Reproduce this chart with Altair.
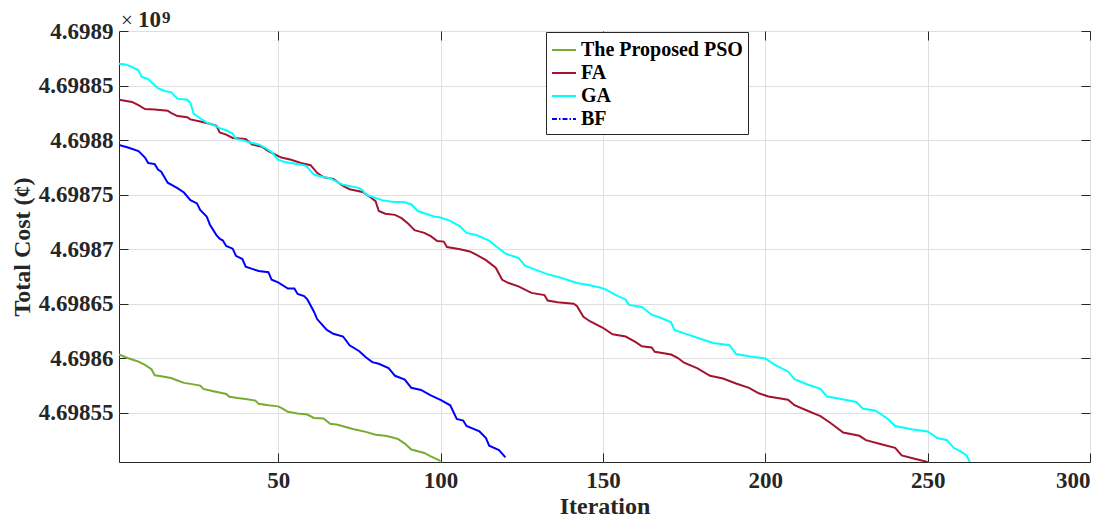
import altair as alt
import pandas as pd

series_names = ["The Proposed PSO", "FA", "GA", "BF"]
series_colors = ["#77AC30", "#A2142F", "#00FFFF", "#0000FF"]
series_dash = [[1, 0], [1, 0], [1, 0], [5, 2, 1.5, 2]]

pso_iter = [1, 3, 5, 7, 9, 11, 12, 14, 17, 19, 21, 23, 26, 27, 30, 33, 34, 35, 38, 40,
            43, 44, 47, 50, 51, 53, 56, 59, 61, 64, 66, 68, 70, 73, 77, 80, 83, 85, 87, 89,
            91, 93, 95, 97, 100]
pso_cost = [4.6986035, 4.6986010, 4.6985990, 4.6985970, 4.6985940, 4.6985900, 4.6985845,
            4.6985836, 4.6985820, 4.6985797, 4.6985775, 4.6985766, 4.6985750, 4.6985720,
            4.6985699, 4.6985680, 4.6985674, 4.6985647, 4.6985635, 4.6985628, 4.6985613,
            4.6985583, 4.6985570, 4.6985560, 4.6985546, 4.6985510, 4.6985494, 4.6985485,
            4.6985454, 4.6985448, 4.6985400, 4.6985393, 4.6985378, 4.6985353, 4.6985326,
            4.6985300, 4.6985290, 4.6985277, 4.6985260, 4.6985219, 4.6985164, 4.6985148,
            4.6985133, 4.6985102, 4.6985060]

fa_iter = [1, 5, 7, 9, 12, 16, 17, 19, 22, 23, 26, 29, 31, 32, 34, 36, 40, 42, 45, 47,
           51, 54, 57, 60, 62, 64, 67, 70, 72, 76, 78, 80, 81, 83, 86, 88, 90, 92, 95, 97,
           99, 101, 102, 106, 109, 111, 114, 117, 119, 121, 124, 128, 132, 133, 136, 141,
           142, 144, 146, 150, 153, 157, 160, 162, 165, 166, 171, 173, 175, 179, 183, 187,
           191, 195, 198, 201, 207, 209, 213, 217, 220, 224, 229, 231, 236, 240, 242, 246, 250]
fa_cost = [4.6988370, 4.6988350, 4.6988320, 4.6988285, 4.6988280, 4.6988270, 4.6988250,
           4.6988220, 4.6988210, 4.6988190, 4.6988170, 4.6988150, 4.6988130, 4.6988070,
           4.6988050, 4.6988020, 4.6988010, 4.6987960, 4.6987940, 4.6987900, 4.6987840,
           4.6987820, 4.6987790, 4.6987770, 4.6987700, 4.6987660, 4.6987645, 4.6987580,
           4.6987550, 4.6987525, 4.6987485, 4.6987440, 4.6987350, 4.6987325, 4.6987315,
           4.6987285, 4.6987235, 4.6987175, 4.6987150, 4.6987120, 4.6987075, 4.6987070,
           4.6987020, 4.6987000, 4.6986980, 4.6986950, 4.6986900, 4.6986830, 4.6986720,
           4.6986690, 4.6986660, 4.6986600, 4.6986580, 4.6986530, 4.6986515, 4.6986500,
           4.6986480, 4.6986380, 4.6986340, 4.6986280, 4.6986220, 4.6986200, 4.6986150,
           4.6986110, 4.6986100, 4.6986060, 4.6986035, 4.6986005, 4.6985960, 4.6985910,
           4.6985840, 4.6985815, 4.6985770, 4.6985730, 4.6985680, 4.6985650, 4.6985620,
           4.6985570, 4.6985520, 4.6985470, 4.6985410, 4.6985320, 4.6985290, 4.6985250,
           4.6985210, 4.6985180, 4.6985110, 4.6985080, 4.6985050]

ga_iter = [1, 3, 5, 7, 8, 10, 11, 13, 15, 17, 18, 19, 22, 23, 24, 26, 28, 30, 32, 34,
           36, 37, 39, 41, 44, 46, 48, 50, 52, 54, 58, 59, 60, 61, 64, 66, 68, 70, 72, 75,
           76, 77, 80, 82, 85, 89, 91, 93, 95, 98, 100, 103, 106, 108, 111, 115, 117, 120,
           124, 126, 129, 133, 137, 142, 146, 149, 151, 154, 157, 158, 162, 165, 168, 171,
           172, 176, 180, 184, 189, 191, 195, 200, 203, 207, 209, 213, 217, 219, 223, 228,
           230, 234, 238, 240, 245, 250, 253, 256, 258, 260, 262, 263]
ga_cost = [4.6988700, 4.6988694, 4.6988670, 4.6988640, 4.6988580, 4.6988560, 4.6988530,
           4.6988475, 4.6988450, 4.6988440, 4.6988410, 4.6988380, 4.6988370, 4.6988340,
           4.6988240, 4.6988200, 4.6988160, 4.6988140, 4.6988110, 4.6988090, 4.6988060,
           4.6988010, 4.6988000, 4.6987980, 4.6987960, 4.6987930, 4.6987890, 4.6987820,
           4.6987800, 4.6987790, 4.6987770, 4.6987755, 4.6987715, 4.6987685, 4.6987660,
           4.6987650, 4.6987620, 4.6987590, 4.6987580, 4.6987560, 4.6987540, 4.6987500,
           4.6987470, 4.6987450, 4.6987435, 4.6987430, 4.6987410, 4.6987350, 4.6987330,
           4.6987300, 4.6987290, 4.6987260, 4.6987210, 4.6987150, 4.6987130, 4.6987080,
           4.6987030, 4.6986960, 4.6986920, 4.6986850, 4.6986815, 4.6986770, 4.6986740,
           4.6986690, 4.6986670, 4.6986650, 4.6986630, 4.6986580, 4.6986540, 4.6986490,
           4.6986470, 4.6986400, 4.6986370, 4.6986330, 4.6986260, 4.6986220, 4.6986180,
           4.6986140, 4.6986120, 4.6986040, 4.6986020, 4.6986000, 4.6985940, 4.6985880,
           4.6985810, 4.6985760, 4.6985720, 4.6985650, 4.6985630, 4.6985600, 4.6985540,
           4.6985520, 4.6985440, 4.6985380, 4.6985350, 4.6985330, 4.6985270, 4.6985250,
           4.6985180, 4.6985150, 4.6985110, 4.6985050]

bf_iter = [1, 4, 7, 9, 10, 12, 13, 14, 16, 19, 21, 23, 25, 26, 28, 29, 31, 32, 33, 34,
           36, 37, 39, 40, 42, 44, 47, 48, 50, 53, 55, 56, 58, 59, 61, 62, 65, 67, 70, 72,
           75, 77, 79, 81, 84, 86, 89, 91, 94, 97, 100, 103, 105, 107, 108, 112, 114, 115,
           118, 120]
bf_cost = [4.6987955, 4.6987930, 4.6987900, 4.6987840, 4.6987790, 4.6987780, 4.6987730,
           4.6987710, 4.6987610, 4.6987560, 4.6987520, 4.6987450, 4.6987420, 4.6987360,
           4.6987300, 4.6987225, 4.6987130, 4.6987096, 4.6987080, 4.6987030, 4.6987005,
           4.6986940, 4.6986910, 4.6986840, 4.6986820, 4.6986800, 4.6986790, 4.6986720,
           4.6986696, 4.6986640, 4.6986640, 4.6986590, 4.6986570, 4.6986540, 4.6986430,
           4.6986360, 4.6986260, 4.6986225, 4.6986200, 4.6986120, 4.6986065, 4.6986010,
           4.6985965, 4.6985950, 4.6985910, 4.6985840, 4.6985805, 4.6985730, 4.6985710,
           4.6985660, 4.6985620, 4.6985570, 4.6985445, 4.6985430, 4.6985380, 4.6985330,
           4.6985270, 4.6985200, 4.6985160, 4.6985093]

x_ticks = [50, 100, 150, 200, 250, 300]
y_ticks = [4.69855, 4.6986, 4.69865, 4.6987, 4.69875, 4.6988, 4.69885, 4.6989]
x_domain = [1, 300]
y_domain = [4.698505, 4.6989]

frames = []
for name, its, costs in [(series_names[0], pso_iter, pso_cost),
                         (series_names[1], fa_iter, fa_cost),
                         (series_names[2], ga_iter, ga_cost),
                         (series_names[3], bf_iter, bf_cost)]:
    frames.append(pd.DataFrame({"Iteration": its, "Cost": costs, "Algorithm": name}))
df = pd.concat(frames, ignore_index=True)
legend_df = df.groupby("Algorithm", sort=False).head(1)

FONT = "Liberation Serif"
TXT = "#262626"
GRID = "#dfdfdf"

xscale = alt.Scale(domain=x_domain, nice=False, zero=False)
yscale = alt.Scale(domain=y_domain, nice=False, zero=False)
cscale = alt.Scale(domain=series_names, range=series_colors)
dscale = alt.Scale(domain=series_names, range=series_dash)

leg = alt.Legend(
    title=None, orient="none", legendX=427, legendY=1,
    symbolType="stroke", symbolSize=576, symbolStrokeWidth=2,
    labelFont=FONT, labelFontSize=20, labelFontWeight="bold", labelColor="#000000",
    labelOffset=4, labelLimit=400, rowPadding=0, padding=5,
    strokeColor=TXT, fillColor="#ffffff",
)

lines = alt.Chart(df).mark_line(strokeWidth=2, clip=True).encode(
    x=alt.X("Iteration:Q", scale=xscale,
            axis=alt.Axis(orient="bottom", values=x_ticks, title="Iteration",
                          offset=-9, tickSize=9, domain=False, grid=True,
                          labelPadding=7, titlePadding=2)),
    y=alt.Y("Cost:Q", scale=yscale,
            axis=alt.Axis(orient="left", values=y_ticks, format=".5~f",
                          title="Total Cost (¢)", offset=-9, tickSize=9,
                          domain=False, grid=True, labelPadding=6, titlePadding=4)),
    color=alt.Color("Algorithm:N", scale=cscale, legend=leg),
)

legend_layer = alt.Chart(legend_df).mark_line(strokeWidth=2).encode(
    x=alt.X("Iteration:Q", scale=xscale,
            axis=alt.Axis(orient="top", values=x_ticks, title=None, labels=False,
                          offset=-9, tickSize=9, domain=False, grid=False)),
    y=alt.Y("Cost:Q", scale=yscale,
            axis=alt.Axis(orient="right", values=y_ticks, title=None, labels=False,
                          offset=-9, tickSize=9, domain=False, grid=False)),
    color=alt.Color("Algorithm:N", scale=cscale, legend=leg),
    strokeDash=alt.StrokeDash("Algorithm:N", scale=dscale, legend=leg),
)

exp_times = alt.Chart(pd.DataFrame({"t": ["×"]})).mark_text(
    font=FONT, fontSize=21, fontWeight="normal", color=TXT, align="left", baseline="alphabetic"
).encode(x=alt.value(2), y=alt.value(-4), text="t:N")
exp_base = alt.Chart(pd.DataFrame({"t": ["10"]})).mark_text(
    font=FONT, fontSize=23, fontWeight="bold", color=TXT, align="left", baseline="alphabetic"
).encode(x=alt.value(19), y=alt.value(-4), text="t:N")
exp_pow = alt.Chart(pd.DataFrame({"t": ["9"]})).mark_text(
    font=FONT, fontSize=17, fontWeight="bold", color=TXT, align="left", baseline="alphabetic"
).encode(x=alt.value(43), y=alt.value(-8), text="t:N")

chart = alt.layer(lines, legend_layer, exp_times, exp_base, exp_pow).resolve_axis(
    x="independent", y="independent"
).properties(
    width=971, height=431,
    autosize=alt.AutoSizeParams(type="none"),
    padding={"left": 111, "top": 23, "right": 10, "bottom": 59},
    background="#ffffff",
).configure_view(
    stroke=TXT, strokeWidth=1
).configure_axis(
    labelFont=FONT, labelFontSize=23, labelFontWeight="bold", labelColor=TXT,
    titleFont=FONT, titleFontSize=24, titleFontWeight="bold", titleColor=TXT,
    tickColor=TXT, tickWidth=1, gridColor=GRID, gridWidth=1,
)

chart.save("out.html", embed_options={"renderer": "svg", "actions": False})
